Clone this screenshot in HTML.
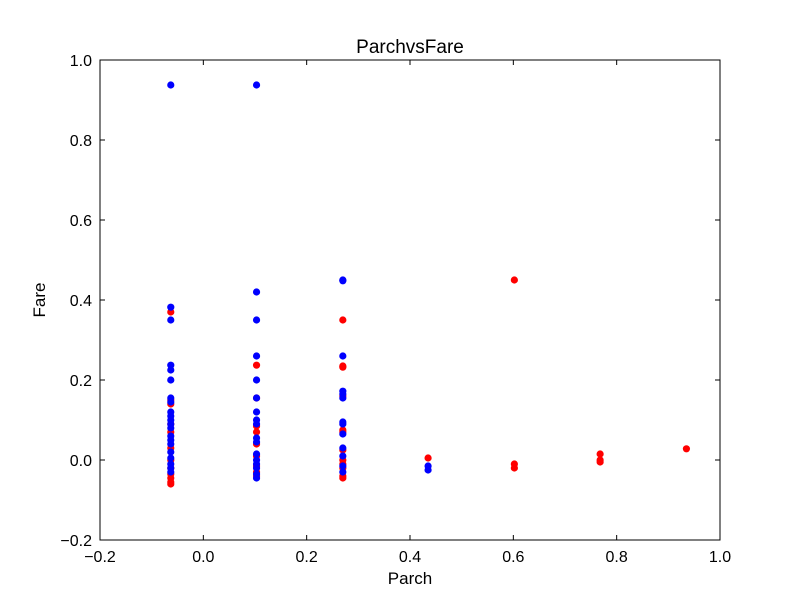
<!DOCTYPE html>
<html><head><meta charset="utf-8"><style>
body{margin:0;background:#fff}
svg{display:block;font-family:"Liberation Sans","DejaVu Sans",sans-serif}
</style></head><body>
<svg id="chart" width="800" height="600" viewBox="0 0 800 600">
<rect width="800" height="600" fill="#fff"/>
<g id="marks"></g>
<g id="axes"></g>
<text x="410" y="53" text-anchor="middle" font-size="19">ParchvsFare</text>
<text x="410" y="584" text-anchor="middle" font-size="17">Parch</text>
<text x="45" y="300" text-anchor="middle" font-size="17" transform="rotate(-90 45 300)">Fare</text>
</svg>
<script>
const xTicks=[-0.2,0,0.2,0.4,0.6,0.8,1.0];
const yTicks=[-0.2,0,0.2,0.4,0.6,0.8,1.0];
const xTickLabels=["\u22120.2","0.0","0.2","0.4","0.6","0.8","1.0"];
const yTickLabels=["\u22120.2","0.0","0.2","0.4","0.6","0.8","1.0"];
const redX=[-0.063,-0.063,-0.063,-0.063,-0.063,-0.063,-0.063,-0.063,-0.063,-0.063,-0.063,-0.063,
 0.103,0.103,0.103,0.103,0.103,0.103,0.103,0.103,0.103,
 0.27,0.27,0.27,0.27,0.27,0.27,0.27,0.27,0.27,0.27,0.27,0.27,
 0.435,0.602,0.602,0.602,0.768,0.768,0.768,0.935];
const redY=[0.37,0.15,0.14,0.09,0.07,0.03,0.0,-0.02,-0.035,-0.045,-0.055,-0.06,
 0.237,0.155,0.085,0.07,0.04,0.01,-0.015,-0.03,-0.04,
 0.35,0.235,0.232,0.16,0.075,0.07,0.025,0.0,-0.01,-0.02,-0.04,-0.045,
 0.005,0.45,-0.01,-0.02,0.015,0.0,-0.005,0.028];
const blueX=[-0.063,-0.063,-0.063,-0.063,-0.063,-0.063,-0.063,-0.063,-0.063,-0.063,-0.063,-0.063,-0.063,-0.063,-0.063,-0.063,-0.063,-0.063,-0.063,-0.063,-0.063,
 0.103,0.103,0.103,0.103,0.103,0.103,0.103,0.103,0.103,0.103,0.103,0.103,0.103,0.103,0.103,0.103,0.103,
 0.27,0.27,0.27,0.27,0.27,0.27,0.27,0.27,0.27,0.27,0.27,0.27,0.27,
 0.435,0.435];
const blueY=[0.9375,0.382,0.35,0.237,0.225,0.2,0.155,0.145,0.12,0.11,0.1,0.09,0.08,0.06,0.05,0.04,0.02,0.005,-0.01,-0.02,-0.03,
 0.9375,0.42,0.35,0.26,0.2,0.155,0.12,0.1,0.09,0.055,0.045,0.015,0.0,-0.01,-0.02,-0.035,-0.045,
 0.45,0.448,0.26,0.172,0.165,0.155,0.095,0.09,0.065,0.03,0.01,-0.015,-0.03,
 -0.015,-0.025];
const L=100,R=720,T=60,B=540,NS="http://www.w3.org/2000/svg";
const sx=v=>L+(v+0.2)/1.2*(R-L), sy=v=>B-(v+0.2)/1.2*(B-T);
const marks=document.getElementById('marks'), axes=document.getElementById('axes');
function mk(t,a,p){const e=document.createElementNS(NS,t);for(const k in a)e.setAttribute(k,a[k]);p.appendChild(e);return e;}
function pts(xs,ys,col,name){for(let i=0;i<xs.length;i++){const c=mk('circle',{cx:sx(xs[i]),cy:sy(ys[i]),r:3.6,fill:col},marks);

}}
pts(redX,redY,'#ff0000','point-red');
pts(blueX,blueY,'#0000ff','point-blue');
const fr=mk('rect',{x:L,y:T,width:R-L,height:B-T,fill:'none',stroke:'#000','stroke-width':1},axes);


xTicks.forEach((v,i)=>{const x=sx(v);
mk('line',{x1:x,x2:x,y1:B,y2:B-5,stroke:'#000'},axes);mk('line',{x1:x,x2:x,y1:T,y2:T+5,stroke:'#000'},axes);
const t=mk('text',{x:x,y:B+22,'text-anchor':'middle','font-size':16},axes);t.textContent=xTickLabels[i];

});
yTicks.forEach((v,i)=>{const y=sy(v);
mk('line',{x1:L,x2:L+5,y1:y,y2:y,stroke:'#000'},axes);mk('line',{x1:R,x2:R-5,y1:y,y2:y,stroke:'#000'},axes);
const t=mk('text',{x:L-8,y:y+6,'text-anchor':'end','font-size':16},axes);t.textContent=yTickLabels[i];

});
</script>
</body></html>
